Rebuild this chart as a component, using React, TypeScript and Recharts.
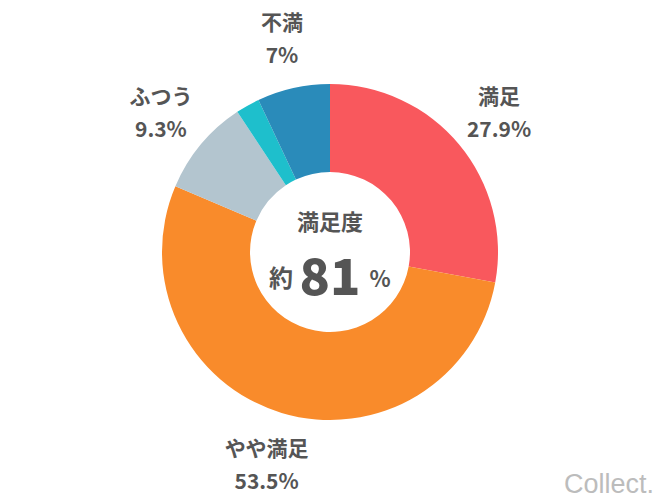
import { Cell, Pie, PieChart } from 'recharts';

const categories = ['満足', 'やや満足', 'ふつう', 'その他', '不満'];
const shares = [27.9, 53.5, 9.3, 2.3, 7];
const labels = ['27.9%', '53.5%', '9.3%', '', '7%'];
const colors = ['#f9585d', '#f98b2b', '#b3c5cf', '#1ebfcc', '#2a8bba'];

const data = categories.map((name, i) => ({ name, value: shares[i], text: labels[i] }));

const FONT = '"Noto Sans CJK JP", "Noto Sans", sans-serif';
const RAD = Math.PI / 180;
const CX = 330;
const CY = 252;

function SliceLabel(props: any) {
  const { cx, cy, midAngle, payload } = props;
  if (!payload.text) return null;
  const r = 220;
  const x = cx + r * Math.cos(-midAngle * RAD);
  const y = cy + r * Math.sin(-midAngle * RAD);
  return (
    <g fontFamily={FONT} fontWeight={700} fontSize={21} fill="#555555" textAnchor="middle">
      <text x={x} y={y - 16} dominantBaseline="central">{payload.name}</text>
      <text x={x} y={y + 17} dominantBaseline="central">{payload.text}</text>
    </g>
  );
}

export default function App() {
  return (
    <div style={{ position: 'fixed', left: 0, top: 0, width: 662, height: 500, background: '#fff' }}>
      <PieChart width={662} height={500} margin={{ top: 0, right: 0, bottom: 0, left: 0 }}>
        <Pie
          data={data}
          dataKey="value"
          cx={CX}
          cy={CY}
          innerRadius={80}
          outerRadius={168}
          startAngle={90}
          endAngle={-270}
          stroke="none"
          label={SliceLabel}
          labelLine={false}
          isAnimationActive={false}
        >
          {data.map((d, i) => (
            <Cell key={d.name} fill={colors[i]} />
          ))}
        </Pie>
        <g fontFamily={FONT} fontWeight={700} fill="#555555">
          <text x={CX} y={CY - 32} fontSize={22} textAnchor="middle" dominantBaseline="central">満足度</text>
          <text x={CX - 49} y={CY + 24} fontSize={24} textAnchor="middle" dominantBaseline="central">約</text>
          <text x={CX} y={CY + 21} fontSize={50} fontWeight={900} textAnchor="middle" dominantBaseline="central">81</text>
          <text x={CX + 50} y={CY + 25} fontSize={22} textAnchor="middle" dominantBaseline="central">%</text>
        </g>
      </PieChart>
      <div
        style={{
          position: 'absolute',
          right: 8,
          bottom: 0,
          fontFamily: '"Liberation Sans", Arial, sans-serif',
          fontSize: 27,
          color: '#bcbcbc',
        }}
      >
        Collect.
      </div>
    </div>
  );
}
